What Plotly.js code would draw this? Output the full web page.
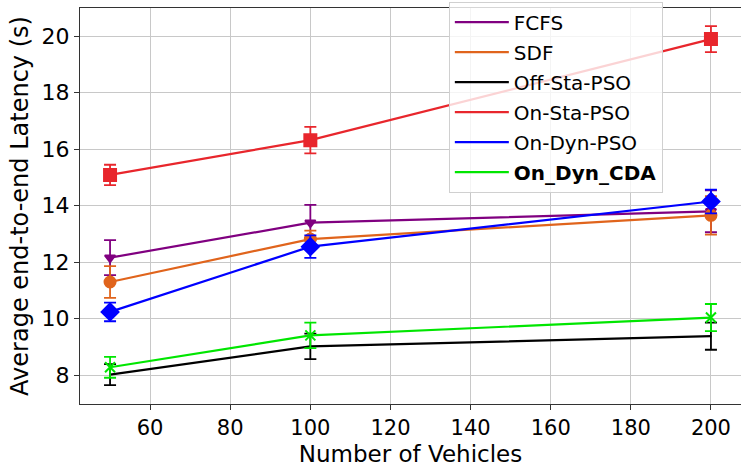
<!DOCTYPE html>
<html>
<head>
<meta charset="utf-8">
<script src="https://cdn.plot.ly/plotly-3.0.1.min.js"></script>
<style>html,body{margin:0;padding:0;background:#fff;}#chart{width:741px;height:467px;}</style>
</head>
<body>
<div id="chart"></div>
<script>
const vehicles = [50, 100, 200];

const seriesNames = ["FCFS", "SDF", "Off-Sta-PSO", "On-Sta-PSO", "On-Dyn-PSO", "<b>On_Dyn_CDA</b>"];

const fcfs = [12.16, 13.40, 13.80];
const fcfsErr = [0.62, 0.63, 0.74];
const sdf = [11.30, 12.82, 13.66];
const sdfErr = [0.56, 0.30, 0.68];
const offStaPso = [8.02, 9.02, 9.38];
const offStaPsoErr = [0.37, 0.45, 0.48];
const onStaPso = [15.09, 16.32, 19.90];
const onStaPsoErr = [0.36, 0.47, 0.46];
const onDynPso = [10.24, 12.55, 14.15];
const onDynPsoErr = [0.33, 0.40, 0.42];
const onDynCda = [8.28, 9.41, 10.04];
const onDynCdaErr = [0.37, 0.45, 0.48];

const xTicks = [60, 80, 100, 120, 140, 160, 180, 200];
const yTicks = [8, 10, 12, 14, 16, 18, 20];

const styles = [
  {color: "#800080", symbol: "triangle-down", size: 9},
  {color: "#e0641c", symbol: "circle", size: 11},
  {color: "#000000", symbol: "line-ew", size: 1},
  {color: "#e8262c", symbol: "square", size: 12},
  {color: "#0000ff", symbol: "diamond", size: 13},
  {color: "#00e600", symbol: "x-thin-open", size: 10}
];

const values = [fcfs, sdf, offStaPso, onStaPso, onDynPso, onDynCda];
const errs = [fcfsErr, sdfErr, offStaPsoErr, onStaPsoErr, onDynPsoErr, onDynCdaErr];

const traces = [];
values.forEach((v, i) => {
  const s = styles[i];
  traces.push({
    x: vehicles, y: v, name: seriesNames[i], type: "scatter", mode: "lines",
    legendgroup: "g" + i,
    line: {color: s.color, width: 2.2}, showlegend: true
  });
  traces.push({
    x: vehicles, y: v, type: "scatter", mode: "markers", showlegend: false,
    legendgroup: "g" + i,
    marker: {color: s.color, symbol: s.symbol, size: s.size, line: {color: s.color, width: 2}},
    error_y: {type: "data", array: errs[i], visible: true, color: s.color, thickness: 1.8, width: 6}
  });
});

const layout = {
  width: 741, height: 467,
  margin: {l: 80, r: 0, t: 8, b: 63},
  paper_bgcolor: "#fff", plot_bgcolor: "#fff",
  font: {family: "DejaVu Sans, sans-serif", color: "#000"},
  xaxis: {
    range: [42.5, 207.5], tickvals: xTicks, ticktext: xTicks.map(String),
    showgrid: true, gridcolor: "#c8c8c8", gridwidth: 1,
    showline: true, linecolor: "#333", linewidth: 1.2, mirror: true,
    ticks: "outside", ticklen: 5, tickcolor: "#333",
    tickfont: {size: 21}, zeroline: false,
    title: {text: "Number of Vehicles", font: {size: 23}, standoff: 9}
  },
  yaxis: {
    range: [6.98, 21.0], tickvals: yTicks, ticktext: yTicks.map(String),
    showgrid: true, gridcolor: "#c8c8c8", gridwidth: 1,
    showline: true, linecolor: "#333", linewidth: 1.2, mirror: true,
    ticks: "outside", ticklen: 5, tickcolor: "#333",
    tickfont: {size: 22}, zeroline: false,
    title: {text: "Average end-to-end Latency (s)", font: {size: 24}, standoff: 6}
  },
  legend: {
    x: 0.558, y: 1.016, xanchor: "left", yanchor: "top",
    bgcolor: "rgba(255,255,255,0.8)", bordercolor: "#d0d0d0", borderwidth: 1,
    font: {size: 20}, tracegroupgap: 1, itemwidth: 54
  },
  showlegend: true
};

Plotly.newPlot("chart", traces, layout, {displayModeBar: false, staticPlot: true});
</script>
</body>
</html>
